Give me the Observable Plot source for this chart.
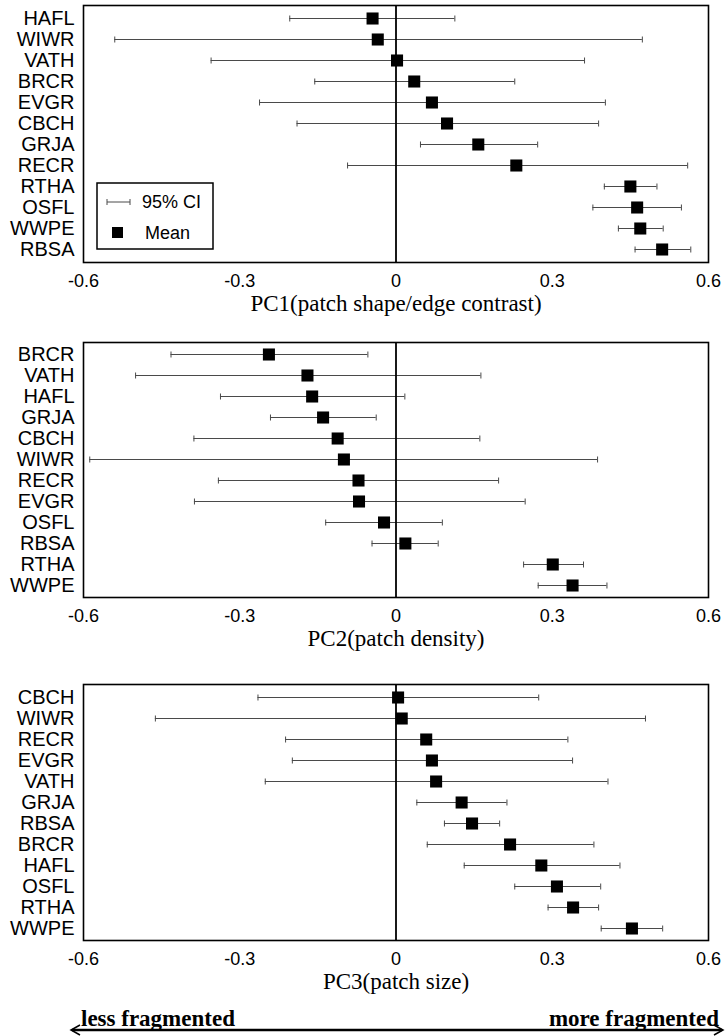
<!DOCTYPE html>
<html>
<head>
<meta charset="utf-8">
<script src="https://cdn.jsdelivr.net/npm/d3@7"></script>
<script src="https://cdn.jsdelivr.net/npm/@observablehq/plot@0.6"></script>
<style>
  html, body { margin: 0; padding: 0; background: #fff; }
  #chart { width: 726px; }
  #chart svg { display: block; }
</style>
</head>
<body>
<div id="chart"></div>
<script>
// ---- Data ----
const xTicks = [-0.6, -0.3, 0, 0.3, 0.6];
const xTickLabels = ["-0.6", "-0.3", "0", "0.3", "0.6"];

// PC1
const pc1Title = "PC1(patch shape/edge contrast)";
const pc1Species = ["HAFL", "WIWR", "VATH", "BRCR", "EVGR", "CBCH", "GRJA", "RECR", "RTHA", "OSFL", "WWPE", "RBSA"];
const pc1Mean = [-0.045, -0.035, 0.002, 0.035, 0.069, 0.098, 0.158, 0.231, 0.450, 0.463, 0.469, 0.511];
const pc1Lo   = [-0.204, -0.540, -0.355, -0.156, -0.262, -0.190, 0.047, -0.093, 0.400, 0.378, 0.427, 0.459];
const pc1Hi   = [0.113, 0.473, 0.362, 0.228, 0.402, 0.389, 0.272, 0.560, 0.501, 0.548, 0.513, 0.566];

// PC2
const pc2Title = "PC2(patch density)";
const pc2Species = ["BRCR", "VATH", "HAFL", "GRJA", "CBCH", "WIWR", "RECR", "EVGR", "OSFL", "RBSA", "RTHA", "WWPE"];
const pc2Mean = [-0.244, -0.170, -0.161, -0.140, -0.112, -0.100, -0.072, -0.071, -0.023, 0.018, 0.301, 0.339];
const pc2Lo   = [-0.432, -0.500, -0.337, -0.241, -0.388, -0.588, -0.341, -0.387, -0.135, -0.046, 0.245, 0.273];
const pc2Hi   = [-0.054, 0.163, 0.017, -0.038, 0.161, 0.387, 0.197, 0.248, 0.089, 0.081, 0.360, 0.405];

// PC3
const pc3Title = "PC3(patch size)";
const pc3Species = ["CBCH", "WIWR", "RECR", "EVGR", "VATH", "GRJA", "RBSA", "BRCR", "HAFL", "OSFL", "RTHA", "WWPE"];
const pc3Mean = [0.004, 0.011, 0.058, 0.069, 0.077, 0.126, 0.146, 0.219, 0.279, 0.309, 0.340, 0.453];
const pc3Lo   = [-0.265, -0.462, -0.212, -0.199, -0.251, 0.040, 0.093, 0.060, 0.131, 0.228, 0.292, 0.394];
const pc3Hi   = [0.274, 0.479, 0.330, 0.339, 0.407, 0.213, 0.199, 0.380, 0.430, 0.393, 0.389, 0.512];

const legendLabels = ["95% CI", "Mean"];
const arrowLabels = ["less fragmented", "more fragmented"];

// ---- Drawing ----
const SANS = "'Liberation Sans', Arial, Helvetica, sans-serif";
const SERIF = "'Liberation Serif', 'Times New Roman', serif";
const barColor = "#4a4a4a";

// vertical cap symbol for error bars
const vbar = {
  draw(ctx, size) {
    const h = Math.sqrt(size / Math.PI);
    ctx.moveTo(0, -h);
    ctx.lineTo(0, h);
  }
};

function panel(species, mean, lo, hi, title, height, marginTop, marginBottom) {
  const data = species.map((s, i) => ({sp: s, mean: mean[i], lo: lo[i], hi: hi[i]}));
  return Plot.plot({
    width: 726,
    height,
    marginLeft: 83,
    marginRight: 18,
    marginTop,
    marginBottom,
    style: {fontFamily: SANS, fontSize: "18px", color: "black", background: "white", overflow: "visible"},
    x: {domain: [-0.6, 0.6], label: null},
    y: {type: "point", domain: species, padding: 0.5, label: null},
    marks: [
      Plot.axisX({ticks: xTicks, tickFormat: (d) => xTickLabels[xTicks.indexOf(d)], tickSize: 0, tickPadding: 12, label: null, fontSize: 18}),
      Plot.axisY({tickSize: 0, tickPadding: 9, label: null, fontSize: 20}),
      Plot.ruleY(data, {y: "sp", x1: "lo", x2: "hi", stroke: barColor, strokeWidth: 1}),
      Plot.dot(data, {x: "lo", y: "sp", symbol: vbar, r: 3, stroke: barColor, fill: "none", strokeWidth: 1}),
      Plot.dot(data, {x: "hi", y: "sp", symbol: vbar, r: 3, stroke: barColor, fill: "none", strokeWidth: 1}),
      Plot.ruleX([0], {stroke: "black", strokeWidth: 1.8}),
      Plot.dot(data, {x: "mean", y: "sp", symbol: "square", r: 6.8, fill: "black", stroke: "none"}),
      Plot.frame({stroke: "black", strokeWidth: 1.6}),
      Plot.text([title], {frameAnchor: "bottom", dy: 48, fontFamily: SERIF, fontSize: 23, fill: "black"})
    ]
  });
}

const chart = document.getElementById("chart");

const p1 = panel(pc1Species, pc1Mean, pc1Lo, pc1Hi, pc1Title, 338, 5, 76);
const p2 = panel(pc2Species, pc2Mean, pc2Lo, pc2Hi, pc2Title, 338, 4, 79);
const p3 = panel(pc3Species, pc3Mean, pc3Lo, pc3Hi, pc3Title, 330, 8, 66);
chart.append(p1, p2, p3);

// Legend inside first panel
{
  const g = d3.select(p1).append("g").attr("font-family", SANS).attr("font-size", 18).attr("text-anchor", "start");
  g.append("rect").attr("x", 97).attr("y", 183).attr("width", 116).attr("height", 66)
    .attr("fill", "white").attr("stroke", "black").attr("stroke-width", 1.5);
  g.append("line").attr("x1", 107).attr("x2", 130).attr("y1", 202).attr("y2", 202).attr("stroke", barColor);
  g.append("line").attr("x1", 107).attr("x2", 107).attr("y1", 199).attr("y2", 205).attr("stroke", barColor);
  g.append("line").attr("x1", 130).attr("x2", 130).attr("y1", 199).attr("y2", 205).attr("stroke", barColor);
  g.append("text").attr("x", 142).attr("y", 202).attr("dy", "0.35em").text(legendLabels[0]);
  g.append("rect").attr("x", 112).attr("y", 227).attr("width", 11).attr("height", 11).attr("fill", "black");
  g.append("text").attr("x", 145).attr("y", 233).attr("dy", "0.35em").text(legendLabels[1]);
}

// Bottom arrow annotation
{
  const svg = d3.select(chart).append("svg").attr("width", 726).attr("height", 30);
  svg.append("text").attr("x", 81).attr("y", 20).attr("font-family", SERIF).attr("font-weight", "bold")
    .attr("font-size", 23).text(arrowLabels[0]);
  svg.append("text").attr("x", 719).attr("y", 20).attr("text-anchor", "end").attr("font-family", SERIF)
    .attr("font-weight", "bold").attr("font-size", 23).text(arrowLabels[1]);
  svg.append("line").attr("x1", 72).attr("x2", 722).attr("y1", 24).attr("y2", 24)
    .attr("stroke", "black").attr("stroke-width", 2.5);
  svg.append("path").attr("d", "M80,19 L71,24 L80,29").attr("fill", "none").attr("stroke", "black").attr("stroke-width", 1.5);
  svg.append("path").attr("d", "M714,19 L723,24 L714,29").attr("fill", "none").attr("stroke", "black").attr("stroke-width", 1.5);
}
</script>
</body>
</html>
